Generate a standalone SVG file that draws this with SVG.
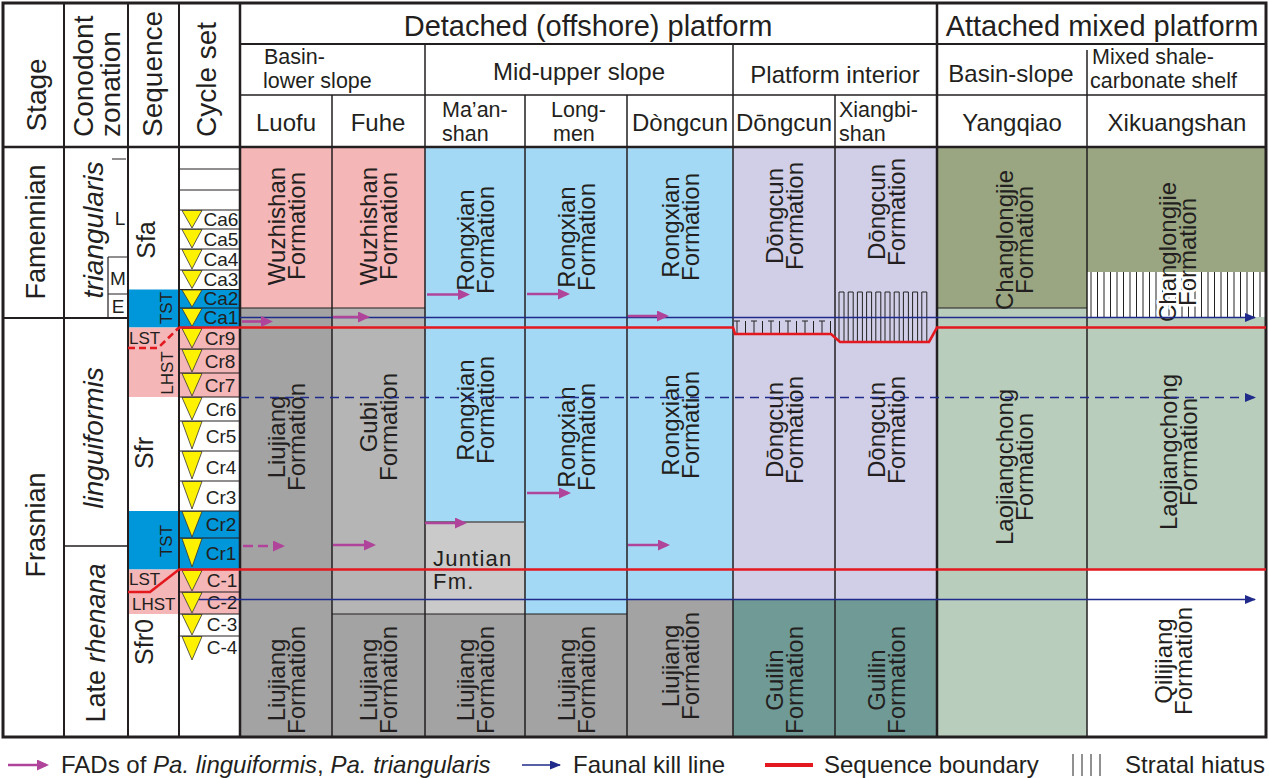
<svg xmlns="http://www.w3.org/2000/svg" width="1269" height="778" viewBox="0 0 1269 778">
<defs>
<style>
text{font-family:"Liberation Sans",Arial,sans-serif;fill:#231f20}
.h1{font-size:29px}
.h2{font-size:24px}
.h2b{font-size:21.5px}
.lh{font-size:28px}
.st{font-size:27px}
.cz{font-size:28px;font-style:italic}
.fm{font-size:24px}
.cy{font-size:19px}
.sq{font-size:25px}
.sm{font-size:17px}
.lme{font-size:19px}
.lg{font-size:24px}
.it{font-style:italic}
.ln{stroke:#231f20;fill:none}
.fad{stroke:#b0449a;stroke-width:2.6;fill:none}
.kill{stroke:#1f2a8a;stroke-width:1.6;fill:none}
.sb{stroke:#e3191f;stroke-width:2.6;fill:none}
.tri{fill:#fff200;stroke:#333;stroke-width:0.8}
.hat{stroke:#222;stroke-width:1;fill:none}
</style>
<marker id="fa" viewBox="0 0 12 11" refX="9" refY="5.5" markerWidth="12" markerHeight="11" markerUnits="userSpaceOnUse" orient="auto"><path d="M0,0 L12,5.5 L0,11 z" fill="#b0449a"/></marker>
<marker id="ka" viewBox="0 0 11 9" refX="10" refY="4.5" markerWidth="11" markerHeight="9" markerUnits="userSpaceOnUse" orient="auto"><path d="M0,0 L11,4.5 L0,9 z" fill="#1f2a8a"/></marker>
<clipPath id="hc"><rect x="1088" y="272" width="176" height="45"/></clipPath>
</defs>
<rect width="1269" height="778" fill="#fff"/>

<g id="fills">
<rect x="128" y="289.5" width="51" height="38" fill="#0096da"/>
<rect x="128" y="327.5" width="51" height="69.5" fill="#f4b6b6"/>
<rect x="128" y="511" width="51" height="58.5" fill="#0096da"/>
<rect x="128" y="569.5" width="51" height="44.5" fill="#f4b6b6"/>
<rect x="179" y="289.5" width="61" height="38" fill="#0096da"/>
<rect x="179" y="327.5" width="61" height="69.5" fill="#f4b6b6"/>
<rect x="179" y="511" width="61" height="58.5" fill="#0096da"/>
<rect x="179" y="569.5" width="61" height="44.5" fill="#f4b6b6"/>
<rect x="240" y="147" width="92" height="161" fill="#f4b6b6"/>
<rect x="240" y="308" width="92" height="429" fill="#a3a3a3"/>
<rect x="332" y="147" width="93" height="161" fill="#f4b6b6"/>
<rect x="332" y="308" width="93" height="306" fill="#b5b5b5"/>
<rect x="332" y="614" width="93" height="123" fill="#a3a3a3"/>
<rect x="425" y="147" width="100" height="375" fill="#a3d9f5"/>
<rect x="425" y="522" width="100" height="92" fill="#cacaca"/>
<rect x="425" y="614" width="100" height="123" fill="#a3a3a3"/>
<rect x="525" y="147" width="102" height="467" fill="#a3d9f5"/>
<rect x="525" y="614" width="102" height="123" fill="#a3a3a3"/>
<rect x="627" y="147" width="106" height="452" fill="#a3d9f5"/>
<rect x="627" y="599" width="106" height="138" fill="#a3a3a3"/>
<rect x="733" y="147" width="204" height="452" fill="#d1cee7"/>
<rect x="733" y="599" width="204" height="138" fill="#6f9a96"/>
<rect x="937" y="147" width="150" height="161" fill="#9aa681"/>
<rect x="937" y="308" width="150" height="429" fill="#b9cdbd"/>
<rect x="1087" y="147" width="179" height="125" fill="#9aa681"/>
<rect x="1087" y="317" width="179" height="252" fill="#b9cdbd"/>
</g>

<g id="hiatus">
<path class="hat" d="M737,321 V334 M745.5,321 V334 M754,321 V334 M762.5,321 V334 M771,321 V334 M779.5,321 V334 M788,321 V334 M796.5,321 V334 M805,321 V334 M813.5,321 V334 M822,321 V334 M830.5,321 V334 M734,321 H740 M751,321 H757 M768,321 H774 M785,321 H791 M802,321 H808 M819,321 H825"/>
<path class="hat" d="M839,342 V292 H844 V342 M848.2,342 V292 H853.2 V342 M857.4,342 V292 H862.4 V342 M866.6,342 V292 H871.6 V342 M875.8,342 V292 H880.8 V342 M885,342 V292 H890 V342 M894.2,342 V292 H899.2 V342 M903.4,342 V292 H908.4 V342 M912.6,342 V292 H917.6 V342 M921.8,342 V292 H926.8 V342"/>
<path class="hat" d="M1091,272 V317 M1097.5,272 V317 M1104,272 V317 M1110.5,272 V317 M1117,272 V317 M1123.5,272 V317 M1130,272 V317 M1136.5,272 V317 M1143,272 V317 M1149.5,272 V317 M1156,272 V317 M1162.5,272 V317 M1169,272 V317 M1175.5,272 V317 M1182,272 V317 M1188.5,272 V317 M1195,272 V317 M1201.5,272 V317 M1208,272 V317 M1214.5,272 V317 M1221,272 V317 M1227.5,272 V317 M1234,272 V317 M1240.5,272 V317 M1247,272 V317 M1253.5,272 V317 M1260,272 V317"/>
</g>

<g id="grid">
<rect x="3" y="3" width="1263" height="734" class="ln" stroke-width="3"/>
<path class="ln" stroke-width="2.5" d="M3,147 H1266 M240,3 V737 M937,3 V737"/>
<path class="ln" stroke-width="2" d="M64,3 V737 M128,3 V737 M179,3 V737 M240,44 H1266 M3,318 H128"/>
<path class="ln" stroke-width="1.5" d="M240,95 H1266 M425,44 V737 M733,44 V737 M1087,50 V737 M332,95 V737 M525,95 V737 M627,95 V737 M835,95 V737 M64,546 H128"/>
<path class="ln" stroke-width="1.2" d="M112,159 H126 M108,257 H128 M108,294 H128 M108,257 V318"/>
<path class="ln" stroke-width="1.2" d="M179,169 H240 M179,190 H240 M179,210 H240 M179,229 H240 M179,249 H240 M179,270 H240 M179,289.5 H240 M179,308 H240 M179,349 H240 M179,373 H240 M179,397 H240 M179,421 H240 M179,451 H240 M179,481 H240 M179,511 H240 M179,538 H240 M179,592 H240 M179,614 H240 M179,636 H240"/>
<path class="ln" stroke-width="1.2" d="M240,308 H425 M937,308 H1087 M332,614 H627"/>
<path stroke="#555" stroke-width="1.5" fill="none" d="M425,522 H525"/>
</g>

<g id="cycles">
<polygon class="tri" points="182,210.5 202,210.5 192,228"/>
<polygon class="tri" points="182,229.5 202,229.5 192,248"/>
<polygon class="tri" points="182,249.5 202,249.5 192,269"/>
<polygon class="tri" points="182,270.5 202,270.5 192,288.5"/>
<polygon class="tri" points="182,290 202,290 192,307"/>
<polygon class="tri" points="182,308.5 202,308.5 192,326.5"/>
<polygon class="tri" points="182,328.5 202,328.5 192,348"/>
<polygon class="tri" points="182,349.5 202,349.5 192,372"/>
<polygon class="tri" points="182,373.5 202,373.5 192,396"/>
<polygon class="tri" points="182,397.5 202,397.5 192,420"/>
<polygon class="tri" points="182,421.5 202,421.5 192,449"/>
<polygon class="tri" points="182,451.5 202,451.5 192,479"/>
<polygon class="tri" points="182,481.5 202,481.5 192,509"/>
<polygon class="tri" points="182,511.5 202,511.5 192,537"/>
<polygon class="tri" points="182,538.5 202,538.5 192,567"/>
<polygon class="tri" points="182,570.5 202,570.5 192,591"/>
<polygon class="tri" points="182,592.5 202,592.5 192,613"/>
<polygon class="tri" points="182,614.5 202,614.5 192,635"/>
<polygon class="tri" points="182,636.5 202,636.5 192,660"/>
<g class="cy" text-anchor="middle">
<text x="221" y="226">Ca6</text>
<text x="221" y="246">Ca5</text>
<text x="221" y="266">Ca4</text>
<text x="221" y="286">Ca3</text>
<text x="221" y="305">Ca2</text>
<text x="221" y="324">Ca1</text>
<text x="220" y="345">Cr9</text>
<text x="220" y="368">Cr8</text>
<text x="220" y="392">Cr7</text>
<text x="221" y="416">Cr6</text>
<text x="221" y="443">Cr5</text>
<text x="221" y="474">Cr4</text>
<text x="221" y="504">Cr3</text>
<text x="221" y="531">Cr2</text>
<text x="221" y="560">Cr1</text>
<text x="222" y="587">C-1</text>
<text x="222" y="609">C-2</text>
<text x="222" y="631">C-3</text>
<text x="222" y="654">C-4</text>
</g>
</g>

<g id="left-header">
<text class="lh" transform="translate(46,95) rotate(-90)" text-anchor="middle">Stage</text>
<text class="lh" transform="translate(93,137) rotate(-90)">Conodont</text>
<text class="lh" transform="translate(120,137) rotate(-90)">zonation</text>
<text class="lh" transform="translate(162,137) rotate(-90)">Sequence</text>
<text class="lh" transform="translate(216,137) rotate(-90)">Cycle set</text>
</g>

<g id="stages">
<text class="st" transform="translate(45,232) rotate(-90)" text-anchor="middle">Famennian</text>
<text class="st" transform="translate(45,525) rotate(-90)" text-anchor="middle">Frasnian</text>
<text class="cz" transform="translate(103,230) rotate(-90)" text-anchor="middle">triangularis</text>
<text class="cz" transform="translate(103,438) rotate(-90)" text-anchor="middle">linguiformis</text>
<text class="st" transform="translate(105,643) rotate(-90)" text-anchor="middle">Late <tspan class="it">rhenana</tspan></text>
<text class="lme" x="120" y="225" text-anchor="middle">L</text>
<text class="lme" x="118" y="285" text-anchor="middle">M</text>
<text class="lme" x="118" y="313" text-anchor="middle">E</text>
</g>

<g id="sequences">
<text class="sq" transform="translate(155,240) rotate(-90)" text-anchor="middle">Sfa</text>
<text class="sq" transform="translate(153,453) rotate(-90)" text-anchor="middle">Sfr</text>
<text class="sq" transform="translate(153,642) rotate(-90)" text-anchor="middle">Sfr0</text>
<text class="sm" transform="translate(172,308) rotate(-90)" text-anchor="middle">TST</text>
<text class="sm" transform="translate(173,373) rotate(-90)" text-anchor="middle">LHST</text>
<text class="sm" transform="translate(172,541) rotate(-90)" text-anchor="middle">TST</text>
<text class="sm" x="129" y="344">LST</text>
<text class="sm" x="129" y="585">LST</text>
<text class="sm" x="132" y="610">LHST</text>
</g>

<g id="header">
<text class="h1" x="588" y="36" text-anchor="middle">Detached (offshore) platform</text>
<text class="h1" x="1102" y="36" text-anchor="middle">Attached mixed platform</text>
<text class="h2b" x="264" y="64">Basin-</text>
<text class="h2b" x="263" y="88">lower slope</text>
<text class="h2" x="579" y="80" text-anchor="middle">Mid-upper slope</text>
<text class="h2" x="835" y="83" text-anchor="middle">Platform interior</text>
<text class="h2" x="1011" y="82" text-anchor="middle">Basin-slope</text>
<text class="h2b" x="1092" y="64">Mixed shale-</text>
<text class="h2b" x="1090" y="88">carbonate shelf</text>
<text class="h2" x="286" y="131" text-anchor="middle">Luofu</text>
<text class="h2" x="378" y="131" text-anchor="middle">Fuhe</text>
<text class="h2b" x="442" y="117">Ma’an-</text>
<text class="h2b" x="442" y="141">shan</text>
<text class="h2b" x="551" y="117">Long-</text>
<text class="h2b" x="553" y="141">men</text>
<text class="h2" x="680" y="131" text-anchor="middle">Dòngcun</text>
<text class="h2" x="784" y="131" text-anchor="middle">Dōngcun</text>
<text class="h2b" x="839" y="117">Xiangbi-</text>
<text class="h2b" x="839" y="141">shan</text>
<text class="h2" x="1012" y="131" text-anchor="middle">Yangqiao</text>
<text class="h2" x="1177" y="131" text-anchor="middle">Xikuangshan</text>
</g>

<g id="formations" class="fm" text-anchor="middle">
<text transform="translate(286,226) rotate(-90)"><tspan x="0" y="-1">Wuzhishan</tspan><tspan x="0" y="19">Formation</tspan></text>
<text transform="translate(378,226) rotate(-90)"><tspan x="0" y="-1">Wuzhishan</tspan><tspan x="0" y="19">Formation</tspan></text>
<text transform="translate(475,240) rotate(-90)"><tspan x="0" y="-1">Rongxian</tspan><tspan x="0" y="19">Formation</tspan></text>
<text transform="translate(576,237) rotate(-90)"><tspan x="0" y="-1">Rongxian</tspan><tspan x="0" y="19">Formation</tspan></text>
<text transform="translate(680,227) rotate(-90)"><tspan x="0" y="-1">Rongxian</tspan><tspan x="0" y="19">Formation</tspan></text>
<text transform="translate(784,216) rotate(-90)"><tspan x="0" y="-1">Dōngcun</tspan><tspan x="0" y="19">Formation</tspan></text>
<text transform="translate(886,212) rotate(-90)"><tspan x="0" y="-1">Dōngcun</tspan><tspan x="0" y="19">Formation</tspan></text>
<text transform="translate(1014,240) rotate(-90)"><tspan x="0" y="-1">Changlongjie</tspan><tspan x="0" y="19">Formation</tspan></text>
<g clip-path="url(#hc)"><text transform="translate(1177,252) rotate(-90)" stroke="#fff" stroke-width="5" stroke-linejoin="round"><tspan x="0" y="-1">Changlongjie</tspan><tspan x="0" y="19">Formation</tspan></text></g>
<text transform="translate(1177,252) rotate(-90)"><tspan x="0" y="-1">Changlongjie</tspan><tspan x="0" y="19">Formation</tspan></text>

<text transform="translate(286,437) rotate(-90)"><tspan x="0" y="-1">Liujiang</tspan><tspan x="0" y="19">Formation</tspan></text>
<text transform="translate(378,427) rotate(-90)"><tspan x="0" y="-1">Gubi</tspan><tspan x="0" y="19">Formation</tspan></text>
<text transform="translate(475,410) rotate(-90)"><tspan x="0" y="-1">Rongxian</tspan><tspan x="0" y="19">Formation</tspan></text>
<text transform="translate(576,437) rotate(-90)"><tspan x="0" y="-1">Rongxian</tspan><tspan x="0" y="19">Formation</tspan></text>
<text transform="translate(680,425) rotate(-90)"><tspan x="0" y="-1">Rongxian</tspan><tspan x="0" y="19">Formation</tspan></text>
<text transform="translate(784,430) rotate(-90)"><tspan x="0" y="-1">Dōngcun</tspan><tspan x="0" y="19">Formation</tspan></text>
<text transform="translate(886,430) rotate(-90)"><tspan x="0" y="-1">Dōngcun</tspan><tspan x="0" y="19">Formation</tspan></text>
<text transform="translate(1014,467) rotate(-90)"><tspan x="0" y="-1">Laojiangchong</tspan><tspan x="0" y="19">Formation</tspan></text>
<text transform="translate(1178,452) rotate(-90)"><tspan x="0" y="-1">Laojiangchong</tspan><tspan x="0" y="19">Formation</tspan></text>

<text transform="translate(286,680) rotate(-90)"><tspan x="0" y="-1">Liujiang</tspan><tspan x="0" y="19">Formation</tspan></text>
<text transform="translate(378,680) rotate(-90)"><tspan x="0" y="-1">Liujiang</tspan><tspan x="0" y="19">Formation</tspan></text>
<text transform="translate(475,680) rotate(-90)"><tspan x="0" y="-1">Liujiang</tspan><tspan x="0" y="19">Formation</tspan></text>
<text transform="translate(576,680) rotate(-90)"><tspan x="0" y="-1">Liujiang</tspan><tspan x="0" y="19">Formation</tspan></text>
<text transform="translate(680,666) rotate(-90)"><tspan x="0" y="-1">Liujiang</tspan><tspan x="0" y="19">Formation</tspan></text>
<text transform="translate(784,680) rotate(-90)"><tspan x="0" y="-1">Guilin</tspan><tspan x="0" y="19">Formation</tspan></text>
<text transform="translate(886,680) rotate(-90)"><tspan x="0" y="-1">Guilin</tspan><tspan x="0" y="19">Formation</tspan></text>
<text transform="translate(1173,661) rotate(-90)"><tspan x="0" y="-1">Qilijiang</tspan><tspan x="0" y="19">Formation</tspan></text>
<text x="433" y="566" text-anchor="start" style="font-size:22px;letter-spacing:1.2px">Juntian</text>
<text x="433" y="589" text-anchor="start" style="font-size:22px;letter-spacing:1.2px">Fm.</text>
</g>

<g id="connectors">
<path class="kill" d="M240,317.5 H1255" marker-end="url(#ka)"/>
<path class="kill" d="M240,397.5 H1255" stroke-dasharray="9 6" marker-end="url(#ka)"/>
<path class="kill" d="M199,599.5 H1255" marker-end="url(#ka)"/>
<path class="sb" d="M179,327.5 H733 L735,334 H831 L840,342 H929 L937,327.5 H1266"/>
<path class="sb" d="M128,348 H158 L179,327.5" stroke-dasharray="7 4"/>
<path class="sb" d="M128,592 H150 L179,569.5 H1266"/>
<path class="fad" d="M242,321.5 H270" marker-end="url(#fa)"/>
<path class="fad" d="M333,317 H367" marker-end="url(#fa)"/>
<path class="fad" d="M427,294.5 H467" marker-end="url(#fa)"/>
<path class="fad" d="M527,294 H567" marker-end="url(#fa)"/>
<path class="fad" d="M628,316 H666" marker-end="url(#fa)"/>
<path class="fad" d="M243,546 H282" stroke-dasharray="10 5" marker-end="url(#fa)"/>
<path class="fad" d="M333,545 H373" marker-end="url(#fa)"/>
<path class="fad" d="M425,523 H464" marker-end="url(#fa)"/>
<path class="fad" d="M527,493 H568" marker-end="url(#fa)"/>
<path class="fad" d="M628,545 H667" marker-end="url(#fa)"/>
</g>

<g id="legend">
<path class="fad" d="M8,765 H46" marker-end="url(#fa)"/>
<text class="lg" x="61" y="773">FADs of <tspan class="it">Pa. linguiformis</tspan>, <tspan class="it">Pa. triangularis</tspan></text>
<path class="kill" d="M522,765 H560" marker-end="url(#ka)"/>
<text class="lg" x="573" y="773">Faunal kill line</text>
<path stroke="#e3191f" stroke-width="4" d="M765,765 H813"/>
<text class="lg" x="824" y="773">Sequence boundary</text>
<path class="hat" d="M1073,754 V776 M1082,754 V776 M1091,754 V776 M1100,754 V776"/>
<text class="lg" x="1125" y="773">Stratal hiatus</text>
</g>
</svg>
